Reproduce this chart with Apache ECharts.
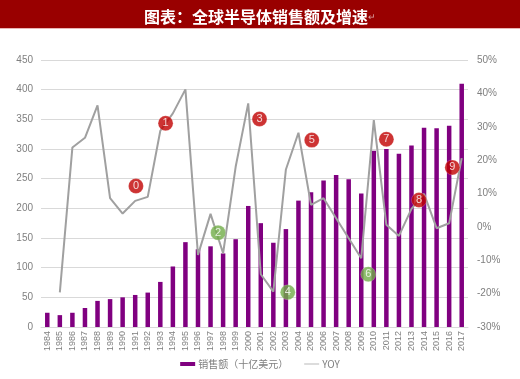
<!DOCTYPE html>
<html><head><meta charset="utf-8">
<script src="https://cdn.jsdelivr.net/npm/echarts@6/dist/echarts.min.js"></script>
<style>html,body{margin:0;padding:0;background:#fff}#c{width:520px;height:379px}</style>
</head><body><div id="c"></div>
<script>
const years = ['1984','1985','1986','1987','1988','1989','1990','1991','1992','1993','1994','1995','1996','1997','1998','1999','2000','2001','2002','2003','2004','2005','2006','2007','2008','2009','2010','2011','2012','2013','2014','2015','2016','2017'];
const sales = [24,20,24,32,44,47,50,54,58,76,102,143,131,136,124,148,204,175,142,165,213,227,247,256,249,225,297,300,292,306,336,335,339,410];
const yoy = [null,-19.6,23.8,26.7,36.4,8.6,4.0,7.8,9.0,28.8,34.0,41.2,-8.4,3.9,-7.9,18.0,37.0,-14.2,-19.4,17.2,28.2,6.6,8.6,2.6,-3.4,-9.4,32.0,0.6,-2.7,5.4,9.9,-0.4,1.1,20.6];
const markerLabels = ['0','1','2','3','4','5','6','7','8','9'];
const markerX = [7.06,9.42,13.6,16.9,19.15,21.06,25.56,27.0,29.6,32.25];
const markerY = [237.6,343.3,159,350.6,58.5,315,88.8,316.4,214,269];
const markerGreen = [false,false,true,false,true,false,true,false,false,false];
const leftTicks = {min:0,max:450,interval:50};
const rightTicks = {min:-30,max:50,interval:10};

const chart = echarts.init(document.getElementById('c'));
const markers = markerLabels.map((t,i)=>({
  value:[markerX[i],markerY[i]], name:t,
  itemStyle:{color: markerGreen[i] ? '#70ad47' : '#c00000'}
}));
chart.setOption({
  animation:false,
  graphic:[
    {type:'rect',left:0,top:0,shape:{width:520,height:28},style:{fill:'#990000'},z:-1},
    {type:'rect',left:0,top:28,shape:{width:520,height:1},style:{fill:'#e8b4b4'},z:-1}
  ],
  title:{
    text:'图表：全球半导体销售额及增速{m|↵}',
    left:'center', top:4,
    textStyle:{color:'#fff',fontSize:16,fontWeight:'bold',fontFamily:'Noto Sans CJK SC',
      rich:{m:{color:'#d9a0a0',fontSize:9,fontWeight:'normal'}}}
  },
  legend:{
    bottom:5, left:'center', itemGap:16, itemWidth:15, itemHeight:4,
    textStyle:{color:'#7f7f7f',fontSize:10,fontFamily:'Noto Sans CJK SC',padding:[0,0,0,-2]},
    data:[{name:'销售额（十亿美元）',icon:'rect'},{name:'YOY',icon:'path://M0,0H20V1H0Z',itemStyle:{color:'#a0a0a0'}}]
  },
  grid:{left:41,right:52,top:60,bottom:52},
  xAxis:[
    {type:'category',data:years,boundaryGap:true,
     axisLine:{lineStyle:{color:'#d9d9d9'}},axisTick:{show:false},
     axisLabel:{rotate:90,fontSize:9,color:'#7f7f7f',interval:0,margin:4}},
    {type:'value',min:-0.5,max:33.5,show:false}
  ],
  yAxis:[
    {type:'value',min:leftTicks.min,max:leftTicks.max,interval:leftTicks.interval,
     axisLine:{show:false},axisTick:{show:false},
     axisLabel:{color:'#7f7f7f',fontSize:10,margin:8},
     splitLine:{lineStyle:{color:'#d9d9d9',width:1}}},
    {type:'value',min:rightTicks.min,max:rightTicks.max,interval:rightTicks.interval,
     axisLine:{show:false},axisTick:{show:false},
     axisLabel:{color:'#7f7f7f',fontSize:10,margin:9,formatter:'{value}%'},
     splitLine:{show:false}}
  ],
  series:[
    {name:'销售额（十亿美元）',type:'bar',data:sales,barWidth:4.5,itemStyle:{color:'#800080'},xAxisIndex:0,yAxisIndex:0},
    {name:'YOY',type:'line',data:yoy,yAxisIndex:1,xAxisIndex:0,symbol:'none',
     lineStyle:{color:'#a0a0a0',width:2},itemStyle:{color:'#a0a0a0'},connectNulls:false},
    {type:'scatter',xAxisIndex:1,yAxisIndex:0,data:markers,symbolSize:15,z:10,
     label:{show:true,position:'inside',formatter:p=>p.name,color:'#fff',fontSize:11},
     itemStyle:{borderColor:'rgba(255,255,255,0.5)',borderWidth:0.5}}
  ]
});
</script></body></html>
